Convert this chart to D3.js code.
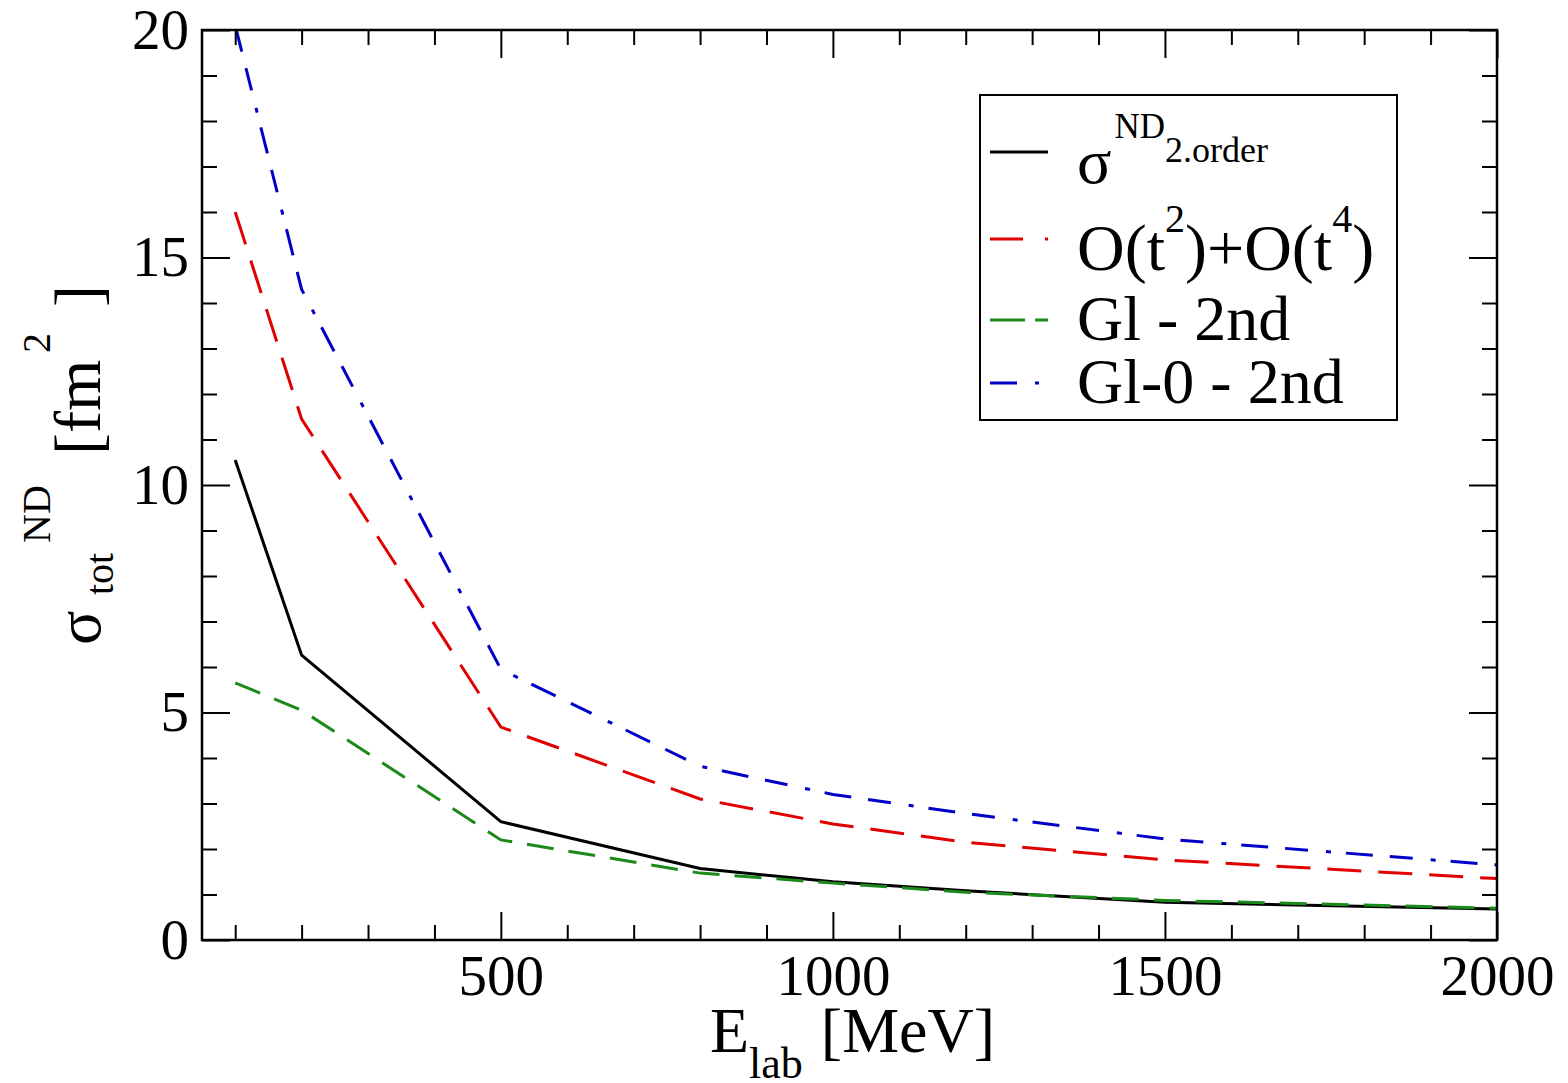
<!DOCTYPE html>
<html>
<head>
<meta charset="utf-8">
<script src="https://cdn.jsdelivr.net/npm/d3@7"></script>
<style>
  body { margin: 0; background: #fff; }
  svg { display: block; font-family: "Liberation Serif", "Times New Roman", serif; }
</style>
</head>
<body>
<svg id="chart" width="1568" height="1083"></svg>
<script>
// lab energy in MeV
var energy   = [100, 200, 500, 800, 1000, 1200, 1500, 2000];
// sigma_tot^ND in fm^2
var sigma2nd = [10.55, 6.26, 2.6, 1.57, 1.28, 1.08, 0.83, 0.68];
var tOrder24 = [16.0, 11.45, 4.68, 3.1, 2.55, 2.15, 1.76, 1.35];
var gl2nd    = [5.65, 5.05, 2.2, 1.47, 1.25, 1.05, 0.87, 0.7];
var gl0_2nd  = [20.1, 14.3, 5.95, 3.82, 3.2, 2.78, 2.22, 1.65];

var xMajor = [500, 1000, 1500, 2000];
var xMinor = d3.range(100, 2000, 100).filter(function(v) { return v % 500 != 0; });
var yMajor = [0, 5, 10, 15, 20];
var yMinor = d3.range(0, 21, 1).filter(function(v) { return v % 5 != 0; });

var series = [
  {name: "sigma", values: sigma2nd, color: "#000000", dash: null, legendDash: null},
  {name: "t24",   values: tOrder24, color: "#e00000", dash: "34,17", legendDash: "33,22,3,10"},
  {name: "gl",    values: gl2nd,    color: "#1b8a1b", dash: "27,15", legendDash: "35,10"},
  {name: "gl0",   values: gl0_2nd,  color: "#0000c8", dash: "27,17,23,18,5,15", legendDash: "27,18,4,20"}
];

var plotL = 202, plotR = 1497, plotT = 30, plotB = 940;
var svg = d3.select("#chart");

var x = d3.scaleLinear().domain([50, 2000]).range([plotL, plotR]);
var y = d3.scaleLinear().domain([0, 20]).range([plotB, plotT]);

svg.append("defs").append("clipPath").attr("id", "clip")
  .append("rect").attr("x", plotL).attr("y", plotT)
  .attr("width", plotR - plotL).attr("height", plotB - plotT);

// curves
var line = d3.line()
  .x(function(d) { return x(d[0]); })
  .y(function(d) { return y(d[1]); });

var curves = svg.append("g").attr("clip-path", "url(#clip)");
series.forEach(function(s) {
  var pts = energy.map(function(e, i) { return [e, s.values[i]]; });
  curves.append("path")
    .attr("d", line(pts))
    .attr("fill", "none")
    .attr("stroke", s.color)
    .attr("stroke-width", 3)
    .attr("stroke-dasharray", s.dash);
});

// axes, ticks inward on all four sides
function styleAxis(g) {
  g.select(".domain").remove();
  g.selectAll("line").attr("stroke", "#000").attr("stroke-width", 2);
}

svg.append("g").attr("transform", "translate(0," + plotB + ")")
  .call(d3.axisBottom(x).tickValues(xMajor).tickSize(-28).tickSizeOuter(0).tickFormat(d3.format("d")))
  .call(styleAxis)
  .call(function(g) {
    g.selectAll("text").attr("y", 55).attr("dy", 0)
      .attr("font-size", 57).attr("font-family", "Liberation Serif").attr("fill", "#000");
  });
svg.append("g").attr("transform", "translate(0," + plotB + ")")
  .call(d3.axisBottom(x).tickValues(xMinor).tickSize(-15).tickSizeOuter(0).tickFormat(""))
  .call(styleAxis);
svg.append("g").attr("transform", "translate(0," + plotT + ")")
  .call(d3.axisTop(x).tickValues(xMajor).tickSize(-28).tickSizeOuter(0).tickFormat(""))
  .call(styleAxis);
svg.append("g").attr("transform", "translate(0," + plotT + ")")
  .call(d3.axisTop(x).tickValues(xMinor).tickSize(-15).tickSizeOuter(0).tickFormat(""))
  .call(styleAxis);

svg.append("g").attr("transform", "translate(" + plotL + ",0)")
  .call(d3.axisLeft(y).tickValues(yMajor).tickSize(-28).tickSizeOuter(0).tickPadding(13))
  .call(styleAxis)
  .call(function(g) {
    g.selectAll("text").attr("font-size", 57).attr("font-family", "Liberation Serif").attr("fill", "#000");
  });
svg.append("g").attr("transform", "translate(" + plotL + ",0)")
  .call(d3.axisLeft(y).tickValues(yMinor).tickSize(-15).tickSizeOuter(0).tickFormat(""))
  .call(styleAxis);
svg.append("g").attr("transform", "translate(" + plotR + ",0)")
  .call(d3.axisRight(y).tickValues(yMajor).tickSize(-28).tickSizeOuter(0).tickFormat(""))
  .call(styleAxis);
svg.append("g").attr("transform", "translate(" + plotR + ",0)")
  .call(d3.axisRight(y).tickValues(yMinor).tickSize(-15).tickSizeOuter(0).tickFormat(""))
  .call(styleAxis);

// frame
svg.append("rect")
  .attr("x", plotL).attr("y", plotT)
  .attr("width", plotR - plotL).attr("height", plotB - plotT)
  .attr("fill", "none").attr("stroke", "#000").attr("stroke-width", 2.5);

// x axis title
var xt = svg.append("text").attr("x", 710).attr("y", 1052).attr("fill", "#000");
xt.append("tspan").attr("font-size", 64).text("E");
xt.append("tspan").attr("font-size", 44).attr("dy", 26).text("lab");
xt.append("tspan").attr("font-size", 64).attr("dy", -26).attr("dx", 18).text("[MeV]");

// y axis title (rotated)
var yt = svg.append("text").attr("transform", "translate(100,645) rotate(-90)").attr("fill", "#000");
yt.append("tspan").attr("x", 0).attr("y", 0).attr("font-size", 64).text("σ");
yt.append("tspan").attr("x", 50).attr("y", 13).attr("font-size", 40).text("tot");
yt.append("tspan").attr("x", 102).attr("y", -50).attr("font-size", 40).text("ND");
yt.append("tspan").attr("x", 190).attr("y", 0).attr("font-size", 66).text("[fm");
yt.append("tspan").attr("x", 292).attr("y", -50).attr("font-size", 40).text("2");
yt.append("tspan").attr("x", 338).attr("y", 0).attr("font-size", 66).text("]");

// legend
var lg = svg.append("g");
lg.append("rect").attr("x", 980).attr("y", 95).attr("width", 417).attr("height", 325)
  .attr("fill", "#fff").attr("stroke", "#000").attr("stroke-width", 2);

var legendRows = [152, 239, 320, 383];
series.forEach(function(s, i) {
  lg.append("line")
    .attr("x1", 990).attr("x2", 1048)
    .attr("y1", legendRows[i]).attr("y2", legendRows[i])
    .attr("stroke", s.color).attr("stroke-width", 3)
    .attr("stroke-dasharray", s.legendDash);
});

var t1 = lg.append("text").attr("x", 1077).attr("y", 183).attr("fill", "#000");
t1.append("tspan").attr("font-size", 64).text("σ");
t1.append("tspan").attr("font-size", 35).attr("dy", -45).attr("dx", 3).text("ND");
t1.append("tspan").attr("font-size", 36).attr("dy", 24).text("2.order");

var t2 = lg.append("text").attr("x", 1077).attr("y", 270).attr("fill", "#000").attr("font-size", 66);
t2.append("tspan").text("O(t");
t2.append("tspan").attr("font-size", 40).attr("dy", -38).text("2");
t2.append("tspan").attr("dy", 38).text(")+O(t");
t2.append("tspan").attr("font-size", 40).attr("dy", -38).text("4");
t2.append("tspan").attr("dy", 38).text(")");

lg.append("text").attr("x", 1077).attr("y", 340).attr("fill", "#000").attr("font-size", 64).text("Gl - 2nd");
lg.append("text").attr("x", 1077).attr("y", 403).attr("fill", "#000").attr("font-size", 64).text("Gl-0 - 2nd");
</script>
</body>
</html>
